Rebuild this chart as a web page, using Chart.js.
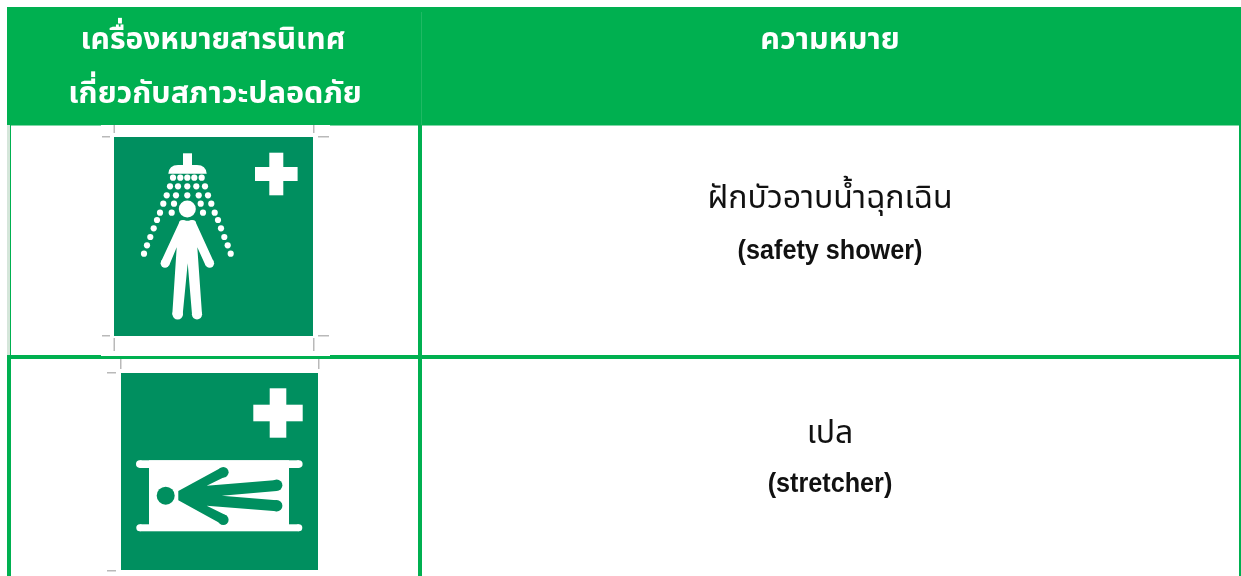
<!DOCTYPE html>
<html lang="th">
<head>
<meta charset="utf-8">
<title>เครื่องหมายสารนิเทศเกี่ยวกับสภาวะปลอดภัย</title>
<style>
  html, body { margin: 0; background: #fff; overflow: hidden; }
  canvas { display: block; }
</style>
</head>
<body>
<canvas id="signTable" width="1241" height="576"></canvas>
<script src="https://cdn.jsdelivr.net/npm/chart.js@4/dist/chart.umd.min.js"></script>
<script>
const headerLeft = ["เครื่องหมายสารนิเทศ", "เกี่ยวกับสภาวะปลอดภัย"];
const headerRight = ["ความหมาย"];
const meaningsThai = ["ฝักบัวอาบน้ำฉุกเฉิน", "เปล"];
const meaningsEnglish = ["(safety shower)", "(stretcher)"];

// shower droplets
const dropX = [173, 180.3, 187.3, 194.3, 201.7, 170, 178, 187.3, 196.3, 205, 166.7, 176, 187.3, 198.7, 208, 163.3, 174, 200.7, 211.3, 160, 171.7, 203, 214.7, 157, 153.7, 150.3, 147, 144, 218, 221, 224.3, 227.7, 230.7];
const dropY = [177.7, 177.7, 177.7, 177.7, 177.7, 186.3, 186.3, 186.3, 186.3, 186.3, 195.3, 195.3, 195.3, 195.3, 195.3, 203.7, 203.7, 203.7, 203.7, 212.7, 212.7, 212.7, 212.7, 220, 228.3, 237, 245.3, 253.7, 220, 228.3, 237, 245.3, 253.7];

const tableGreen = "#00b050";
const signGreen = "#008f5f";
const cropGray = "#b9b9b9";

const tablePlugin = {
  id: "tablePlugin",
  beforeDatasetsDraw(chart) {
    const ctx = chart.ctx;
    const sx = v => chart.scales.x.getPixelForValue(v);
    const sy = v => chart.scales.y.getPixelForValue(v);

    function box(x0, y0, x1, y1, color) {
      ctx.fillStyle = color;
      ctx.fillRect(sx(x0), sy(y0), sx(x1) - sx(x0), sy(y1) - sy(y0));
    }
    function shape(points, color) {
      ctx.fillStyle = color;
      ctx.beginPath();
      points.forEach((p, i) => i ? ctx.lineTo(sx(p[0]), sy(p[1])) : ctx.moveTo(sx(p[0]), sy(p[1])));
      ctx.closePath();
      ctx.fill();
    }
    function dot(x, y, r, color) {
      ctx.fillStyle = color;
      ctx.beginPath();
      ctx.arc(sx(x), sy(y), r, 0, Math.PI * 2);
      ctx.fill();
    }
    function cross(cx, cy, long, wide) {
      box(cx - long, cy - wide, cx + long, cy + wide, "#fff");
      box(cx - wide, cy - long, cx + wide, cy + long, "#fff");
    }

    // table frame
    box(7, 7, 1241, 125.5, tableGreen);
    box(421, 12, 422, 125, "#1fb964");
    box(7, 125, 10, 355, "#d5e6da");
    box(10, 125, 11, 355, tableGreen);
    box(7, 355, 11, 576, tableGreen);
    box(418, 125, 422, 576, tableGreen);
    box(1239, 125, 1241, 576, tableGreen);
    box(10, 355, 1241, 359, tableGreen);

    // white paper behind the signs
    box(101, 125, 330, 356, "#fff");

    // the signs are soft in the source scan
    ctx.save();
    ctx.filter = "blur(0.5px)";

    // first sign
    box(114, 137, 313, 336, signGreen);
    cross(276.3, 174, 21.3, 7);
    box(183, 153.3, 192, 167, "#fff");
    ctx.fillStyle = "#fff";
    ctx.beginPath();
    ctx.moveTo(sx(168.3), sy(173.7));
    ctx.quadraticCurveTo(sx(169), sy(165), sx(178), sy(165));
    ctx.lineTo(sx(197), sy(165));
    ctx.quadraticCurveTo(sx(206), sy(165), sx(206.7), sy(173.7));
    ctx.closePath();
    ctx.fill();
    dot(187.3, 209, 8.5, "#fff");
    shape([[180, 220.7], [195, 220.7], [213.7, 261.7], [205.7, 265.7], [197.3, 247.3], [202, 314.3], [192, 314.3], [187.7, 263.3], [182.7, 314.3], [172.3, 314.3], [176.7, 247.3], [169, 265.7], [161, 261.7]], "#fff");
    dot(209.7, 263.3, 4.4, "#fff");
    dot(165, 263.3, 4.4, "#fff");
    dot(197, 314.3, 5.1, "#fff");
    dot(177.7, 314.3, 5.3, "#fff");
    dot(183, 224, 4, "#fff");
    dot(192, 224, 4, "#fff");

    // crop marks round the first sign
    [[102, 136, 110, 137.5], [318, 136, 329, 137.5], [102, 335, 110, 336.5], [318, 335, 329, 336.5],
     [113.5, 125, 115, 133], [313, 125, 314.5, 133], [113.5, 338, 115, 351], [313, 338, 314.5, 351]]
      .forEach(m => box(m[0], m[1], m[2], m[3], cropGray));

    // second sign
    box(121, 373, 318, 570, signGreen);
    cross(278, 413, 24.7, 8.3);
    box(149, 460.3, 289, 531, "#fff");
    box(139.8, 460.3, 298.8, 468, "#fff");
    box(139.8, 524.3, 298.8, 531.3, "#fff");
    dot(139.8, 464.1, 3.8, "#fff");
    dot(298.8, 464.1, 3.8, "#fff");
    dot(139.8, 527.8, 3.5, "#fff");
    dot(298.8, 527.8, 3.5, "#fff");
    dot(165.7, 495.7, 9, signGreen);
    shape([[178.3, 491], [221, 467.7], [227, 475.7], [206.7, 485.7], [276.7, 480], [276.7, 491], [221.7, 495.7], [276.7, 500.3], [276.7, 511.3], [206.7, 505.7], [227, 515.7], [221, 523.7], [178.3, 500.3]], signGreen);
    dot(223.3, 472.3, 5.3, signGreen);
    dot(223.3, 519.7, 5.3, signGreen);
    dot(276.7, 485.3, 5.7, signGreen);
    dot(276.7, 505.7, 5.7, signGreen);

    [[107, 372, 116, 373.5], [107, 570, 116, 571.5], [120, 359, 121.5, 369], [318, 359, 319.5, 369]]
      .forEach(m => box(m[0], m[1], m[2], m[3], cropGray));
    ctx.restore();
  },
  afterDatasetsDraw(chart) {
    const ctx = chart.ctx;
    const sx = v => chart.scales.x.getPixelForValue(v);
    const sy = v => chart.scales.y.getPixelForValue(v);
    const thaiFont = '"Noto Sans Thai", "Loma", "Garuda", "Noto Sans", "DejaVu Sans", sans-serif';
    const latinFont = '"Liberation Sans", sans-serif';

    function label(text, x, y, font, color, squeeze = 1) {
      ctx.save();
      ctx.font = font;
      ctx.fillStyle = color;
      ctx.textAlign = "center";
      ctx.textBaseline = "middle";
      ctx.translate(sx(x), sy(y));
      ctx.scale(squeeze, 1);
      ctx.fillText(text, 0, 0);
      ctx.restore();
    }

    label(headerLeft[0], 213, 43, "bold 30px " + thaiFont, "#fff");
    label(headerLeft[1], 215, 97, "bold 30.5px " + thaiFont, "#fff");
    label(headerRight[0], 830, 43, "bold 30.5px " + thaiFont, "#fff");
    label(meaningsThai[0], 830, 202, "32px " + thaiFont, "#111");
    label(meaningsEnglish[0], 830, 251, "bold 28px " + latinFont, "#111", 0.9);
    label(meaningsThai[1], 830, 437, "32px " + thaiFont, "#111");
    label(meaningsEnglish[1], 830, 484, "bold 28px " + latinFont, "#111", 0.9);
  }
};

new Chart(document.getElementById("signTable").getContext("2d"), {
  type: "scatter",
  data: {
    datasets: [{
      label: "droplets",
      data: dropX.map((x, i) => ({ x, y: dropY[i] })),
      backgroundColor: "#fff",
      borderWidth: 0,
      pointRadius: 3.1
    }]
  },
  options: {
    responsive: false,
    animation: false,
    layout: { padding: 0, autoPadding: false },
    plugins: { legend: { display: false }, tooltip: { enabled: false } },
    scales: {
      x: { type: "linear", min: 0, max: 1241, display: false },
      y: { type: "linear", min: 0, max: 576, reverse: true, display: false }
    }
  },
  plugins: [tablePlugin]
});
</script>
</body>
</html>
